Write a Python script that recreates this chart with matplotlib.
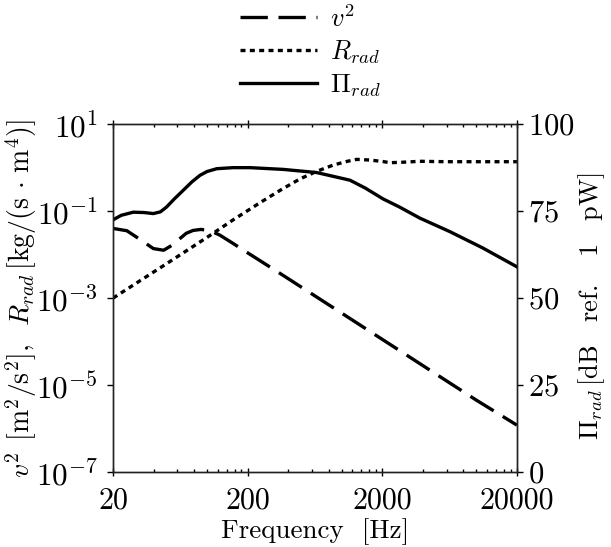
import numpy as np
import matplotlib
matplotlib.use("Agg")
import matplotlib.pyplot as plt
from matplotlib.ticker import FixedLocator, LogFormatterMathtext, NullFormatter
from matplotlib.lines import Line2D

plt.rcParams['mathtext.fontset'] = 'cm'
plt.rcParams['font.family'] = ['serif']
plt.rcParams['font.serif'] = ['cmr10', 'DejaVu Serif']
plt.rcParams['axes.formatter.use_mathtext'] = True
plt.rcParams['axes.unicode_minus'] = False

# ---- data ----
f_v2 = [20, 25.3, 32, 39.8, 47.5, 55, 62.8, 70, 78.6, 90, 105, 124, 150, 200, 348, 1000, 3000, 10000, 20000]
v2 = [0.040, 0.0355, 0.022, 0.0138, 0.0126, 0.0165, 0.0234, 0.031, 0.036, 0.038, 0.0355, 0.0282,
      0.0195, 0.0110, 0.0037, 4.5e-4, 5.0e-5, 4.5e-6, 1.2e-6]

f_R = [20, 50, 100, 156, 250, 360, 489, 650, 860, 1100, 1290, 1600, 2030, 2275, 2800, 3800, 6000, 10000, 20000]
R = [1.0e-3, 6.2e-3, 2.5e-2, 6.3e-2, 0.16, 0.32, 0.55, 0.82, 1.14, 1.40, 1.55, 1.50, 1.38, 1.30, 1.33, 1.40, 1.37, 1.37, 1.37]

f_P = [20, 23, 28.3, 34, 39.8, 45, 50, 57, 66.5, 77, 88.5, 100, 118, 156, 208, 367, 650, 1150, 1500,
       2030, 2680, 3800, 6360, 11170, 20000]
P = [72.5, 73.8, 74.7, 74.6, 74.3, 74.8, 76.2, 78.5, 81.0, 83.4, 85.3, 86.4, 87.2, 87.5, 87.5, 87.0,
     86.1, 83.9, 81.6, 78.5, 76.2, 73.0, 69.1, 64.4, 59.0]

xticks = [20, 200, 2000, 20000]
xtick_labels = ['20', '200', '2000', '20000']
ytick_left = [1e-7, 1e-5, 1e-3, 1e-1, 1e1]
ytick_right = [0, 25, 50, 75, 100]

fig = plt.figure(figsize=(6.11, 5.47), dpi=100)
ax = fig.add_axes([0.185, 0.137, 0.661, 0.636])
ax2 = ax.twinx()

lw = 2.4
dash_pat = (8.2, 3.2)
dot_pat = (1.5, 1.3)
l1, = ax.plot(f_v2, v2, color='black', lw=lw, dashes=dash_pat, dash_capstyle='butt')
l2, = ax.plot(f_R, R, color='black', lw=lw, dashes=dot_pat, dash_capstyle='butt')
l3, = ax2.plot(f_P, P, color='black', lw=lw)

ax.set_xscale('log')
ax.set_yscale('log')
ax.set_xlim(20, 20000)
ax.set_ylim(1e-7, 1e1)
ax2.set_ylim(0, 100)

ax.xaxis.set_major_locator(FixedLocator(xticks))
ax.set_xticklabels(xtick_labels)
minors = []
for base in [20, 200, 2000]:
    minors += [base * k for k in range(2, 10)]
ax.xaxis.set_minor_locator(FixedLocator(minors))
ax.xaxis.set_minor_formatter(NullFormatter())

ax.yaxis.set_major_locator(FixedLocator(ytick_left))
ax.yaxis.set_major_formatter(LogFormatterMathtext())
ax.yaxis.set_minor_locator(FixedLocator([]))
ax2.yaxis.set_major_locator(FixedLocator(ytick_right))
ax2.yaxis.set_minor_locator(FixedLocator([]))

ax.tick_params(axis='x', which='major', direction='inout', length=6, width=1, labelsize=21.5,
               top=True, pad=8)
ax.tick_params(axis='x', which='minor', direction='in', length=2.5, width=1, top=True)
ax.tick_params(axis='y', which='major', direction='out', length=4, width=1, labelsize=22.5, pad=7)
ax2.tick_params(axis='y', which='major', direction='out', length=4, width=1, labelsize=22, pad=4)

for a in (ax, ax2):
    for s in a.spines.values():
        s.set_linewidth(1.0)
        s.set_color('#222222')

ax.set_xlabel('Frequency  [Hz]', fontsize=19.5)
ax.set_ylabel(r'$v^2\;\,[\mathrm{m}^2/\mathrm{s}^2],\;\;R_{rad}\,[\mathrm{kg}/(\mathrm{s}\,\cdot\,\mathrm{m}^4)]$',
              fontsize=20)
ax2.set_ylabel(r'$\Pi_{rad}\,[\mathrm{dB}\quad\mathrm{ref.}\quad1\quad\mathrm{pW}]$', fontsize=19)

# label positions (axes coordinates)
W, H = 404.0, 348.0
ax.xaxis.set_label_coords(0.5, (472 - 532) / H)
ax.yaxis.set_label_coords((21 - 113) / W, 0.5)
ax2.yaxis.set_label_coords((592 - 113) / W, (472 - 306) / H)
ax.xaxis.label.set_va('center')
ax.yaxis.label.set_va('center')
ax2.yaxis.label.set_va('center')

handles = [Line2D([], [], color='black', lw=lw, dashes=dash_pat, dash_capstyle='butt'),
           Line2D([], [], color='black', lw=lw, dashes=dot_pat, dash_capstyle='butt'),
           Line2D([], [], color='black', lw=lw)]
labels = [r'$v^2$', r'$R_{rad}$', r'$\Pi_{rad}$']
fig.legend(handles, labels, loc='center left', bbox_to_anchor=(240 / 611, 0.905), frameon=False,
           fontsize=19, handlelength=2.9, handletextpad=0.5, labelspacing=0.25,
           borderaxespad=0, borderpad=0)

fig.savefig('out.png', dpi=100)
